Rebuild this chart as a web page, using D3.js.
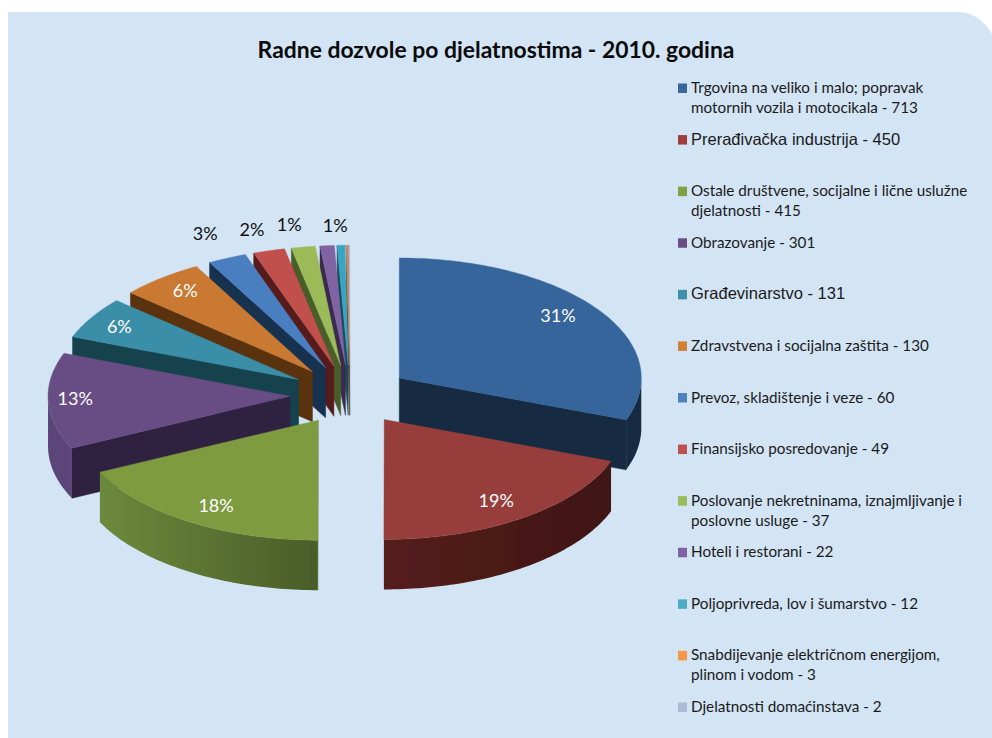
<!DOCTYPE html>
<html>
<head>
<meta charset="utf-8">
<script src="https://cdn.jsdelivr.net/npm/d3@7"></script>
<style>
html,body{margin:0;padding:0;background:#fff;}
svg{display:block;}
</style>
</head>
<body>
<svg id="chart" width="992" height="738"></svg>
<script>
// ---- data ----
const titleText = "Radne dozvole po djelatnostima - 2010. godina";
const values = [713, 450, 415, 301, 131, 130, 60, 49, 37, 22, 12, 3, 2];
const legendLines = [
  ["Trgovina na veliko i malo; popravak", "motornih vozila i motocikala - 713"],
  ["Prerađivačka industrija - 450"],
  ["Ostale društvene, socijalne i lične uslužne", "djelatnosti - 415"],
  ["Obrazovanje - 301"],
  ["Građevinarstvo - 131"],
  ["Zdravstvena i socijalna zaštita - 130"],
  ["Prevoz, skladištenje i veze - 60"],
  ["Finansijsko posredovanje - 49"],
  ["Poslovanje nekretninama, iznajmljivanje i", "poslovne usluge - 37"],
  ["Hoteli i restorani - 22"],
  ["Poljoprivreda, lov i šumarstvo - 12"],
  ["Snabdijevanje električnom energijom,", "plinom i vodom - 3"],
  ["Djelatnosti domaćinstava - 2"]
];
const percentLabels = ["31%","19%","18%","13%","6%","6%","3%","2%","1%","1%",null,null,null];

// ---- styles ----
const topColors  = ["#36659a","#973e3a","#7f9b41","#674e85","#3a8ea8","#c97933","#4a7fc0","#c0504d","#9bbb59","#8064a2","#38a5c4","#c98a5a","#aabad7"];
const cutColors  = ["#142a42","#421614","#4a5c28","#2f2140","#15424e","#5a320f","#16324f","#571c1b","#4a5d29","#3a2a50","#1a4c5c","#6b4020","#667088"];
const wallLeft   = ["#142a42","#561f1c","#6c8a3c","#5b4478","#1f5a6c","#7a4a1a","#2a4f7c","#7a2c2a","#6c8a3c","#5b4478","#1f5a6c","#7a4a1a","#667088"];
const wallRight  = ["#142a42","#3f1512","#4a5c28","#5b4478","#1f5a6c","#7a4a1a","#2a4f7c","#7a2c2a","#4a5c28","#5b4478","#1f5a6c","#7a4a1a","#667088"];
const legendColors = ["#3a659a","#9f3f3c","#82a045","#6a4f87","#3e90a8","#d37f36","#4f81bd","#c0504d","#9bbb59","#8064a2","#4bacc6","#f79646","#aabad7"];
const legendArial = [false,true,false,false,true,false,false,false,false,false,false,false,false];
const labelColors = ["#fff","#fff","#fff","#fff","#fff","#fff","#111","#111","#111","#111"];
const labelOffsets = [[-40,6],[-26,-17],[27,-16],[27,-2],[28,9],[24,13],[-22,-24],[-17,-21],[-14,-22],[8,-20]];

// ---- layout ----
const W = 992, H = 738;
const cx = 350, cy = 395, R = 242, tilt = 120 / 242, depth = 50, explode = 0.248;
const svg = d3.select("#chart");
const defs = svg.append("defs");
defs.append("filter").attr("id","soft").attr("x","-5%").attr("y","-5%").attr("width","110%").attr("height","110%")
  .append("feGaussianBlur").attr("stdDeviation",0.45);

// panel with the rounded top-right corner
const panel = d3.path();
panel.moveTo(8, 12);
panel.lineTo(958, 12);
panel.bezierCurveTo(972, 12, 984, 20, 992, 34);
panel.lineTo(992, H);
panel.lineTo(8, H);
panel.closePath();
svg.append("path").attr("d", panel.toString()).attr("fill", "#d3e4f4");

svg.append("text").attr("x", 496).attr("y", 58).attr("text-anchor","middle")
  .attr("font-family","Lato, 'Open Sans', sans-serif").attr("font-weight",700).attr("font-size",22.9)
  .attr("fill","#0b0b0b").text(titleText);

// ---- pie ----
const xS = d3.scaleLinear().domain([-1,1]).range([cx - R, cx + R]);
const yS = d3.scaleLinear().domain([-1,1]).range([cy + R * tilt, cy - R * tilt]);
const arcs = d3.pie().sort(null).value(d => d)(values).map((a,i) => ({...a, i, mid:(a.startAngle + a.endAngle)/2}));
const pt = (a, r, mid, drop=0) => [
  xS(explode*Math.sin(mid) + r*Math.sin(a)),
  yS(explode*Math.cos(mid) + r*Math.cos(a)) + drop
];
const line = d3.line();
const sample = (a0, a1) => {
  const n = Math.max(2, Math.ceil(Math.abs(a1 - a0) / 0.02));
  return d3.range(n + 1).map(k => a0 + (a1 - a0) * k / n);
};
const pieG = svg.append("g").attr("filter","url(#soft)");
const order = arcs.slice().sort((a,b) => Math.cos(b.mid) - Math.cos(a.mid));
const HALF = Math.PI / 2, PI = Math.PI;

order.forEach(s => {
  const g = pieG.append("g");
  const apex = pt(0, 0, s.mid), apexLow = pt(0, 0, s.mid, depth);
  // cut faces that turn towards the viewer
  const cuts = [];
  if (s.startAngle > PI) cuts.push(s.startAngle);
  if (s.endAngle < PI) cuts.push(s.endAngle);
  cuts.forEach(a => {
    g.append("path").attr("fill", cutColors[s.i]).attr("stroke", cutColors[s.i]).attr("stroke-width",0.5)
      .attr("d", line([apex, pt(a,1,s.mid), pt(a,1,s.mid,depth), apexLow]) + "Z");
  });
  // rim wall
  const a0 = Math.max(s.startAngle, HALF), a1 = Math.min(s.endAngle, 3*HALF);
  if (a1 > a0) {
    const id = "wall" + s.i;
    const p0 = pt(a0,1,s.mid), p1 = pt(a1,1,s.mid);
    const grad = defs.append("linearGradient").attr("id",id).attr("gradientUnits","userSpaceOnUse")
      .attr("x1",Math.min(p0[0],p1[0])).attr("x2",Math.max(p0[0],p1[0])).attr("y1",0).attr("y2",0);
    grad.append("stop").attr("offset",0).attr("stop-color",wallLeft[s.i]);
    grad.append("stop").attr("offset",1).attr("stop-color",wallRight[s.i]);
    const ang = sample(a0, a1);
    const upper = ang.map(a => pt(a,1,s.mid));
    const lower = ang.slice().reverse().map(a => pt(a,1,s.mid,depth));
    g.append("path").attr("fill",`url(#${id})`).attr("d", line(upper.concat(lower)) + "Z");
  }
  // top surface
  const rim = sample(s.startAngle, s.endAngle).map(a => pt(a,1,s.mid));
  g.append("path").attr("fill", topColors[s.i]).attr("stroke", topColors[s.i]).attr("stroke-width",0.4)
    .attr("d", line([apex].concat(rim)) + "Z");
});

// percentage labels
arcs.forEach(s => {
  const txt = percentLabels[s.i];
  if (!txt) return;
  const p = pt(s.mid, 1, s.mid);
  svg.append("text").attr("x", p[0] + labelOffsets[s.i][0]).attr("y", p[1] + labelOffsets[s.i][1] + 6)
    .attr("text-anchor","middle").attr("font-family","Lato, sans-serif").attr("font-size",18)
    .attr("fill", labelColors[s.i]).text(txt);
});

// ---- legend ----
const legY = d3.scaleLinear().domain([0, values.length - 1]).range([88, 707]);
const leg = svg.append("g");
legendLines.forEach((lines, i) => {
  const y = legY(i);
  leg.append("rect").attr("x",678).attr("y",y-4.5).attr("width",9).attr("height",9.5).attr("fill",legendColors[i]);
  lines.forEach((t, k) => {
    leg.append("text").attr("x",691).attr("y", y + 5 + k*20)
      .attr("font-family", legendArial[i] ? "'Liberation Sans', Arial, sans-serif" : "Lato, sans-serif")
      .attr("font-size", legendArial[i] ? 16.5 : 15.25)
      .attr("fill","#1a1a1a").text(t);
  });
});
</script>
</body>
</html>
